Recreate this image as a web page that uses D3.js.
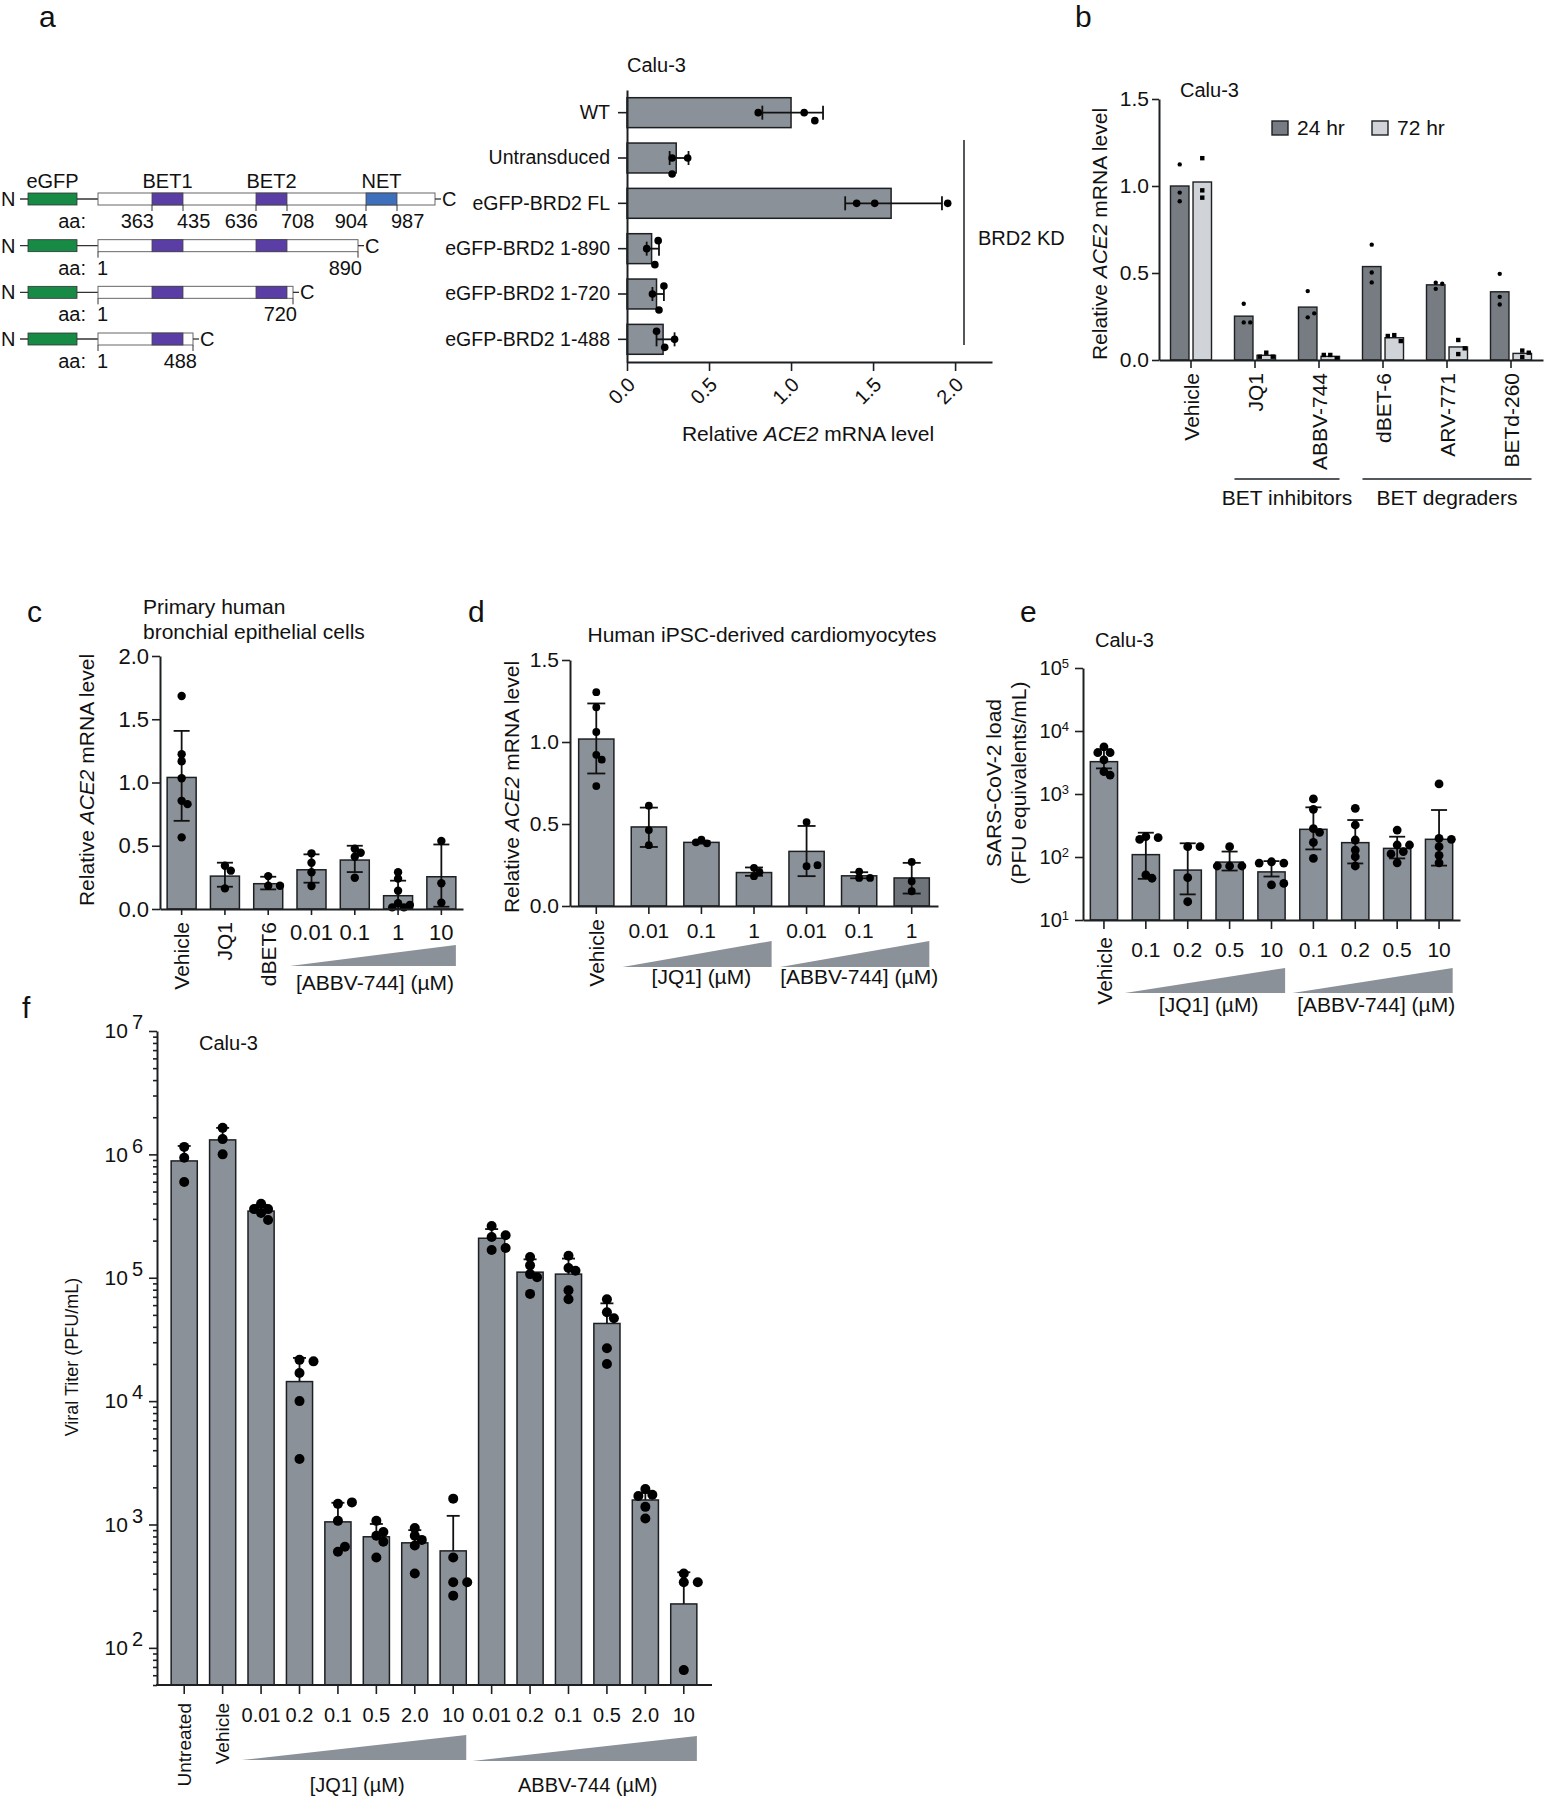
<!DOCTYPE html>
<html><head><meta charset="utf-8">
<script src="https://cdn.jsdelivr.net/npm/d3@7"></script>
<style>
body{margin:0;background:#fff}
svg text{font-family:"Liberation Sans",Arial,Helvetica,sans-serif;fill:#111}
</style></head><body>
<svg id="fig" width="1545" height="1800"></svg>
<script>
// ---------- data ----------
// a: constructs
const constructNames = ["FL", "1-890", "1-720", "1-488"];
const constructEnds = [1060, 890, 720, 488];
const domainNames = ["BET1", "BET2", "NET"];
const domainStarts = [363, 636, 904];
const domainEnds = [435, 708, 987];
// a: bar chart
const aCats = ["WT", "Untransduced", "eGFP-BRD2 FL", "eGFP-BRD2 1-890", "eGFP-BRD2 1-720", "eGFP-BRD2 1-488"];
const aMean = [1.0, 0.30, 1.61, 0.15, 0.18, 0.22];
const aLo = [0.825, 0.26, 1.33, 0.12, 0.155, 0.18];
const aHi = [1.195, 0.375, 1.92, 0.195, 0.225, 0.29];
const aPts = [[0.80, 1.08, 1.145], [0.37, 0.275, 0.275], [1.40, 1.51, 1.955], [0.12, 0.17, 0.19], [0.155, 0.195, 0.225], [0.29, 0.23, 0.18]];
// b
const bCats = ["Vehicle", "JQ1", "ABBV-744", "dBET-6", "ARV-771", "BETd-260"];
const bTimes = ["24 hr", "72 hr"];
const b24 = [1.0, 0.252, 0.304, 0.537, 0.432, 0.392];
const b72 = [1.023, 0.027, 0.021, 0.128, 0.075, 0.038];
const b24Pts = [[1.124, 0.962, 0.912], [0.323, 0.216, 0.216], [0.396, 0.245, 0.268], [0.663, 0.503, 0.446], [0.409, 0.444, 0.438], [0.495, 0.363, 0.319]];
const b72Pts = [[1.16, 0.975, 0.933], [0.042, 0.019, 0.019], [0.029, 0.01, 0.029], [0.143, 0.109, 0.138], [0.115, 0.034, 0.067], [0.054, 0.017, 0.042]];
// c
const cCats = ["Vehicle", "JQ1", "dBET6", "0.01", "0.1", "1", "10"];
const cMean = [1.04, 0.26, 0.20, 0.31, 0.387, 0.105, 0.255];
const cLo = [0.697, 0.176, 0.155, 0.208, 0.292, 0.0, 0.018];
const cHi = [1.408, 0.366, 0.255, 0.432, 0.50, 0.224, 0.51];
const cPts = [[1.684, 1.224, 1.168, 1.034, 0.855, 0.829, 0.566], [0.342, 0.303, 0.163], [0.26, 0.184, 0.184],
  [0.44, 0.366, 0.29, 0.182], [0.476, 0.445, 0.413, 0.247], [0.29, 0.24, 0.145, 0.045, 0.032, 0.013, 0.013], [0.537, 0.203, 0.05]];
// d
const dCats = ["Vehicle", "JQ1 0.01", "JQ1 0.1", "JQ1 1", "ABBV 0.01", "ABBV 0.1", "ABBV 1"];
const dTicks = ["Vehicle", "0.01", "0.1", "1", "0.01", "0.1", "1"];
const dMean = [1.018, 0.482, 0.388, 0.204, 0.333, 0.184, 0.171];
const dLo = [0.808, 0.36, 0.38, 0.184, 0.182, 0.169, 0.076];
const dHi = [1.235, 0.60, 0.396, 0.235, 0.488, 0.206, 0.263];
const dPts = [[1.304, 1.212, 1.061, 0.922, 0.892, 0.731], [0.612, 0.463, 0.371], [0.404, 0.382, 0.388], [0.233, 0.182, 0.208],
  [0.512, 0.243, 0.249], [0.21, 0.171, 0.171], [0.269, 0.151, 0.09]];
// e
const eCats = ["Vehicle", "JQ1 0.1", "JQ1 0.2", "JQ1 0.5", "JQ1 10", "ABBV 0.1", "ABBV 0.2", "ABBV 0.5", "ABBV 10"];
const eTicks = ["Vehicle", "0.1", "0.2", "0.5", "10", "0.1", "0.2", "0.5", "10"];
const eMean = [3260, 109, 62, 83, 58, 275, 169, 137, 191];
const eLo = [2550, 45, 25.5, 61, 49, 132, 79, 95, 73];
const eHi = [5120, 243, 165, 122, 86, 614, 386, 210, 557];
const ePts = [[5600, 4530, 4530, 3470, 2260, 2000], [210, 203, 190, 52, 46], [146, 146, 47, 19.5], [146, 72, 72, 72], [84, 80, 80, 36, 38],
  [834, 571, 282, 246, 170, 95], [592, 322, 186, 129, 101, 72], [268, 155, 155, 122, 112, 81], [1443, 198, 191, 146, 106, 81]];
// f
const fCats = ["Untreated", "Vehicle", "JQ1 0.01", "JQ1 0.2", "JQ1 0.1", "JQ1 0.5", "JQ1 2.0", "JQ1 10",
  "ABBV 0.01", "ABBV 0.2", "ABBV 0.1", "ABBV 0.5", "ABBV 2.0", "ABBV 10"];
const fTicks = ["Untreated", "Vehicle", "0.01", "0.2", "0.1", "0.5", "2.0", "10", "0.01", "0.2", "0.1", "0.5", "2.0", "10"];
const fMean = [885000, 1310000, 347000, 14400, 1050, 795, 710, 611, 209000, 111000, 107000, 42600, 1580, 227];
const fHi = [1170000, 1640000, 390000, 22400, 1500, 1010, 900, 1175, 248000, 141000, 143000, 62000, 1800, 410];
const fPts = [[1150000, 940000, 597000], [1640000, 1330000, 1000000], [398000, 360000, 360000, 335000, 294000],
  [21600, 21000, 16900, 10000, 3390], [1470, 1510, 1070, 602, 660], [1070, 810, 870, 725, 540], [935, 810, 750, 675, 400],
  [1620, 540, 340, 340, 265], [263000, 214000, 221000, 168000, 174000], [147000, 126000, 107000, 101000, 74000],
  [151000, 120000, 114000, 79000, 67000], [67000, 52500, 47000, 26800, 20000], [1940, 1740, 1700, 1390, 1120], [400, 340, 340, 66]];

// ---------- helpers ----------
const svg = d3.select("#fig");
const GRAY = "#8b9198", INK = "#1d2023";

function txt(g, x, y, s, size, anchor) {
  return g.append("text").attr("x", x).attr("y", y).attr("font-size", size || 21)
    .attr("text-anchor", anchor || "start").text(s);
}
function ace2Title(g, x, y, size, rotate) {
  const t = g.append("text").attr("font-size", size).attr("text-anchor", "middle")
    .attr("transform", `translate(${x},${y})` + (rotate ? " rotate(-90)" : ""));
  t.append("tspan").text("Relative ");
  t.append("tspan").attr("font-style", "italic").text("ACE2");
  t.append("tspan").text(" mRNA level");
}
// simple beeswarm: offsets across the bar for points that would overlap
function swarm(vals, scale, minDist, step) {
  const placed = [];
  return vals.map(v => {
    const p = scale(v);
    let off = 0;
    for (const k of [0, 1, -1, 2, -2, 3, -3]) {
      const o = k * step;
      if (placed.every(q => Math.hypot(q.p - p, q.o - o) >= minDist)) { off = o; break; }
    }
    placed.push({p: p, o: off});
    return off;
  });
}
function styleAxis(g, size) {
  g.select(".domain").attr("stroke", INK).attr("stroke-width", 2);
  g.selectAll(".tick line").attr("stroke", INK).attr("stroke-width", 1.6);
  g.selectAll(".tick text").attr("font-size", size).attr("fill", "#111")
    .attr("font-family", '"Liberation Sans",Arial,sans-serif');
}
function wedge(g, x0, x1, yTop, yBot) {
  g.append("polygon").attr("points", [[x0, yBot], [x1, yTop], [x1, yBot]].map(p => p.join(",")).join(" "))
    .attr("fill", GRAY);
}
function vBars(g, o) {
  const bw = o.x.bandwidth(), y0 = o.y.range()[0];
  o.cats.forEach((c, i) => {
    const cx = o.x(c) + bw / 2;
    g.append("rect").attr("x", o.x(c)).attr("y", o.y(o.mean[i])).attr("width", bw)
      .attr("height", y0 - o.y(o.mean[i])).attr("fill", (o.fills && o.fills[i]) || GRAY)
      .attr("stroke", INK).attr("stroke-width", 1.5);
    const yTop = o.y(o.hi[i]), yBot = o.lo ? o.y(o.lo[i]) : o.y(o.mean[i]);
    g.append("line").attr("x1", cx).attr("x2", cx).attr("y1", yTop).attr("y2", yBot)
      .attr("stroke", "#111").attr("stroke-width", 1.8);
    g.append("line").attr("x1", cx - o.cap / 2).attr("x2", cx + o.cap / 2).attr("y1", yTop).attr("y2", yTop)
      .attr("stroke", "#111").attr("stroke-width", 1.8);
    if (o.lo) g.append("line").attr("x1", cx - o.cap / 2).attr("x2", cx + o.cap / 2).attr("y1", yBot).attr("y2", yBot)
      .attr("stroke", "#111").attr("stroke-width", 1.8);
    const offs = swarm(o.pts[i], o.y, 1.5 * o.r, 1.4 * o.r);
    o.pts[i].forEach((v, j) => {
      g.append("circle").attr("cx", cx + offs[j]).attr("cy", o.y(v)).attr("r", o.r).attr("fill", "#000");
    });
  });
}
function xLabels(g, x, cats, ticks, yAxis, nRot, horizY, size, rotSize) {
  cats.forEach((c, i) => {
    const cx = x(c) + x.bandwidth() / 2;
    if (i < nRot) {
      g.append("text").attr("font-size", rotSize).attr("text-anchor", "end").attr("dy", "0.36em")
        .attr("transform", `translate(${cx},${yAxis + 13}) rotate(-90)`).text(ticks[i]);
    } else {
      txt(g, cx, horizY, ticks[i], size, "middle");
    }
  });
}
function wedgeOver(g, x, first, last, yTop, yBot) {
  const step = x.step(), bw = x.bandwidth();
  wedge(g, x(first) - (step - bw) / 2, x(last) + bw, yTop, yBot);
}

// ---------- panel letters ----------
[["a", 39, 27], ["b", 1075, 27], ["c", 27, 622], ["d", 468, 622], ["e", 1020, 622], ["f", 22, 1018]]
  .forEach(d => txt(svg, d[1], d[2], d[0], 30));

// ---------- a: construct diagram ----------
const ga = svg.append("g");
const aa = d3.scaleLinear()
  .domain([-300, -61, 1, 363, 435, 488, 636, 708, 720, 890, 904, 987, 1060])
  .range([28, 77, 98, 152, 183, 193, 256, 287, 293, 358, 366, 397, 435]);
const rowY = d3.scalePoint().domain(constructNames).range([199, 339]);
constructNames.forEach((n, i) => {
  const y = rowY(n), end = constructEnds[i];
  txt(ga, 1, y + 7, "N", 20);
  ga.append("line").attr("x1", aa(-300) - 8).attr("x2", aa(1)).attr("y1", y).attr("y2", y).attr("stroke", "#333").attr("stroke-width", 1.3);
  ga.append("rect").attr("x", aa(-300)).attr("y", y - 6).attr("width", aa(-61) - aa(-300)).attr("height", 12)
    .attr("fill", "#178a45").attr("stroke", "#333").attr("stroke-width", 0.8);
  ga.append("rect").attr("x", aa(1)).attr("y", y - 6).attr("width", aa(end) - aa(1)).attr("height", 12)
    .attr("fill", "#fff").attr("stroke", "#666").attr("stroke-width", 1);
  domainNames.forEach((dn, k) => {
    if (domainEnds[k] > end) return;
    ga.append("rect").attr("x", aa(domainStarts[k])).attr("y", y - 6).attr("width", aa(domainEnds[k]) - aa(domainStarts[k]))
      .attr("height", 12).attr("fill", dn === "NET" ? "#3d6fbd" : "#5a3ea6").attr("stroke", "#444").attr("stroke-width", 0.8);
  });
  ga.append("line").attr("x1", aa(end)).attr("x2", aa(end) + 6).attr("y1", y).attr("y2", y).attr("stroke", "#333").attr("stroke-width", 1.3);
  txt(ga, aa(end) + 7, y + 7, "C", 20);
  txt(ga, 86, y + 29, "aa:", 20, "end");
  const tick = v => ga.append("line").attr("x1", aa(v)).attr("x2", aa(v)).attr("y1", y + 6).attr("y2", y + 12)
    .attr("stroke", "#333").attr("stroke-width", 1);
  if (i === 0) {
    txt(ga, (aa(-300) + aa(-61)) / 2, y - 11, "eGFP", 20, "middle");
    domainNames.forEach((dn, k) => {
      txt(ga, (aa(domainStarts[k]) + aa(domainEnds[k])) / 2, y - 11, dn, 20, "middle");
      tick(domainStarts[k]); tick(domainEnds[k]);
      txt(ga, aa(domainStarts[k]) + 2, y + 29, domainStarts[k], 20, "end");
      txt(ga, aa(domainEnds[k]) - 6, y + 29, domainEnds[k], 20, "start");
    });
  } else {
    tick(1); tick(end);
    txt(ga, aa(1) - 1, y + 29, "1", 20, "start");
    txt(ga, aa(end) + 4, y + 29, end, 20, "end");
  }
});

// ---------- a: bar chart ----------
const gA = svg.append("g");
const xA = d3.scaleLinear().domain([0, 2.225]).range([627, 992]);
const yA = d3.scaleBand().domain(aCats).range([90, 362]).paddingInner(0.34).paddingOuter(0.17);
aCats.forEach((c, i) => {
  const cy = yA(c) + yA.bandwidth() / 2;
  gA.append("rect").attr("x", xA(0)).attr("y", yA(c)).attr("width", xA(aMean[i]) - xA(0)).attr("height", yA.bandwidth())
    .attr("fill", GRAY).attr("stroke", INK).attr("stroke-width", 1.5);
  gA.append("line").attr("x1", xA(aLo[i])).attr("x2", xA(aHi[i])).attr("y1", cy).attr("y2", cy).attr("stroke", "#111").attr("stroke-width", 1.8);
  [aLo[i], aHi[i]].forEach(v => gA.append("line").attr("x1", xA(v)).attr("x2", xA(v)).attr("y1", cy - 7).attr("y2", cy + 7)
    .attr("stroke", "#111").attr("stroke-width", 1.8));
  const offs = swarm(aPts[i], xA, 12, 8);
  aPts[i].forEach((v, j) => gA.append("circle").attr("cx", xA(v)).attr("cy", cy + offs[j]).attr("r", 3.8).attr("fill", "#000"));
});
const aY = gA.append("g").attr("transform", "translate(627,0)")
  .call(d3.axisLeft(yA).tickSize(9).tickPadding(8).tickSizeOuter(0));
styleAxis(aY, 19.5);
const aX = gA.append("g").attr("transform", "translate(0,362)")
  .call(d3.axisBottom(xA).tickValues([0, 0.5, 1, 1.5, 2]).tickFormat(d3.format(".1f")).tickSize(9).tickSizeOuter(0));
styleAxis(aX, 20);
aX.selectAll(".tick text").attr("x", 0).attr("y", 0).attr("dy", "0.35em").style("text-anchor", "end")
  .attr("transform", "translate(4,19) rotate(-45)");
txt(gA, 627, 72, "Calu-3", 20);
gA.append("line").attr("x1", 964).attr("x2", 964).attr("y1", yA(aCats[1]) - 3).attr("y2", 345).attr("stroke", INK).attr("stroke-width", 1.5);
txt(gA, 978, 245, "BRD2 KD", 20);
ace2Title(gA, 808, 441, 21, false);

// ---------- b ----------
const gB = svg.append("g");
const xB = d3.scaleBand().domain(bCats).range([1159, 1543]);
const xB2 = d3.scaleBand().domain(bTimes).range([0, xB.bandwidth()]).paddingInner(0.18).paddingOuter(0.51);
const yB = d3.scaleLinear().domain([0, 1.5]).range([360, 99]);
const bFill = {"24 hr": "#767c82", "72 hr": "#d0d3d7"};
bCats.forEach((c, i) => {
  [[bTimes[0], b24[i], b24Pts[i]], [bTimes[1], b72[i], b72Pts[i]]].forEach(([t, v, pts]) => {
    const x0 = xB(c) + xB2(t), cx = x0 + xB2.bandwidth() / 2;
    gB.append("rect").attr("x", x0).attr("y", yB(v)).attr("width", xB2.bandwidth()).attr("height", yB(0) - yB(v))
      .attr("fill", bFill[t]).attr("stroke", INK).attr("stroke-width", 1.4);
    const offs = swarm(pts, yB, 6, 6.5);
    pts.forEach((p, j) => {
      if (t === "24 hr") gB.append("circle").attr("cx", cx + offs[j]).attr("cy", yB(p)).attr("r", 2.2).attr("fill", "#000");
      else gB.append("rect").attr("x", cx + offs[j] - 2.2).attr("y", yB(p) - 2.2).attr("width", 4.4).attr("height", 4.4).attr("fill", "#000");
    });
  });
});
const bY = gB.append("g").attr("transform", "translate(1159,0)")
  .call(d3.axisLeft(yB).tickValues([0, 0.5, 1, 1.5]).tickFormat(d3.format(".1f")).tickSize(7).tickPadding(3).tickSizeOuter(0));
styleAxis(bY, 21);
const bX = gB.append("g").attr("transform", "translate(0,360)")
  .call(d3.axisBottom(xB).tickSize(8).tickFormat("").tickSizeOuter(0));
styleAxis(bX, 21);
bCats.forEach(c => gB.append("text").attr("font-size", 21).attr("text-anchor", "end").attr("dy", "0.36em")
  .attr("transform", `translate(${xB(c) + xB.bandwidth() / 2},${373}) rotate(-90)`).text(c));
ace2Title(gB, 1107, 234, 21, true);
txt(gB, 1180, 97, "Calu-3", 20);
bTimes.forEach((t, k) => {
  const lx = [1272, 1372][k];
  gB.append("rect").attr("x", lx).attr("y", 121).attr("width", 16).attr("height", 14).attr("fill", bFill[t]).attr("stroke", INK).attr("stroke-width", 1.4);
  txt(gB, lx + 25, 135, t, 21);
});
[["BET inhibitors", "JQ1", "ABBV-744"], ["BET degraders", "dBET-6", "BETd-260"]].forEach(([lab, a0, a1]) => {
  const x0 = xB(a0) + xB2(bTimes[0]), x1 = xB(a1) + xB2(bTimes[1]) + xB2.bandwidth();
  gB.append("line").attr("x1", x0).attr("x2", x1).attr("y1", 479).attr("y2", 479).attr("stroke", INK).attr("stroke-width", 1.4);
  txt(gB, (x0 + x1) / 2, 505, lab, 21, "middle");
});

// ---------- c ----------
const gC = svg.append("g");
const xC = d3.scaleBand().domain(cCats).range([160, 463]).paddingInner(0.33).paddingOuter(0.165);
const yC = d3.scaleLinear().domain([0, 2]).range([909, 656]);
vBars(gC, {cats: cCats, mean: cMean, lo: cLo, hi: cHi, pts: cPts, x: xC, y: yC, r: 4.2, cap: 16});
styleAxis(gC.append("g").attr("transform", "translate(160,0)")
  .call(d3.axisLeft(yC).tickValues([0, 0.5, 1, 1.5, 2]).tickFormat(d3.format(".1f")).tickSize(8).tickPadding(3).tickSizeOuter(0)), 22);
styleAxis(gC.append("g").attr("transform", "translate(0,909)")
  .call(d3.axisBottom(xC).tickFormat("").tickSize(6).tickSizeOuter(0)), 21);
xLabels(gC, xC, cCats, cCats, 909, 3, 940, 22, 21);
wedgeOver(gC, xC, "0.01", "10", 945, 966);
txt(gC, 375, 990, "[ABBV-744] (µM)", 21, "middle");
txt(gC, 143, 614, "Primary human", 21);
txt(gC, 143, 639, "bronchial epithelial cells", 21);
ace2Title(gC, 94, 780, 21, true);

// ---------- d ----------
const gD = svg.append("g");
const xD = d3.scaleBand().domain(dCats).range([570, 938]).paddingInner(0.33).paddingOuter(0.165);
const yD = d3.scaleLinear().domain([0, 1.5]).range([906, 660]);
vBars(gD, {cats: dCats, mean: dMean, lo: dLo, hi: dHi, pts: dPts, x: xD, y: yD, r: 3.9, cap: 18,
  fills: [GRAY, GRAY, GRAY, GRAY, GRAY, GRAY, "#6e7479"]});
styleAxis(gD.append("g").attr("transform", "translate(570,0)")
  .call(d3.axisLeft(yD).tickValues([0, 0.5, 1, 1.5]).tickFormat(d3.format(".1f")).tickSize(8).tickPadding(3).tickSizeOuter(0)), 21);
styleAxis(gD.append("g").attr("transform", "translate(0,906)")
  .call(d3.axisBottom(xD).tickFormat("").tickSize(8).tickSizeOuter(0)), 21);
xLabels(gD, xD, dCats, dTicks, 906, 1, 938, 21, 21);
wedgeOver(gD, xD, dCats[1], dCats[3], 941, 967);
wedgeOver(gD, xD, dCats[4], dCats[6], 941, 967);
txt(gD, (xD(dCats[1]) + xD(dCats[3]) + xD.bandwidth()) / 2, 984, "[JQ1] (µM)", 21, "middle");
txt(gD, (xD(dCats[4]) + xD(dCats[6]) + xD.bandwidth()) / 2, 984, "[ABBV-744] (µM)", 21, "middle");
txt(gD, 762, 642, "Human iPSC-derived cardiomyocytes", 21, "middle");
ace2Title(gD, 519, 787, 21, true);

// ---------- e ----------
const gE = svg.append("g");
const xE = d3.scaleBand().domain(eCats).range([1083, 1460]).paddingInner(0.35).paddingOuter(0.175);
const yE = d3.scaleLog().domain([10, 1e5]).range([920, 668]);
vBars(gE, {cats: eCats, mean: eMean, lo: eLo, hi: eHi, pts: ePts, x: xE, y: yE, r: 4.4, cap: 16});
const eY = gE.append("g").attr("transform", "translate(1083,0)")
  .call(d3.axisLeft(yE).tickValues([10, 100, 1000, 1e4, 1e5]).tickSize(8).tickPadding(6).tickSizeOuter(0));
styleAxis(eY, 20);
eY.selectAll(".tick text").each(function(d) {
  const t = d3.select(this).text("10");
  t.append("tspan").attr("dy", "-0.55em").attr("font-size", 13).text(Math.round(Math.log10(d)));
});
styleAxis(gE.append("g").attr("transform", "translate(0,920)")
  .call(d3.axisBottom(xE).tickFormat("").tickSize(9).tickSizeOuter(0)), 21);
xLabels(gE, xE, eCats, eTicks, 924, 1, 957, 21, 21);
wedgeOver(gE, xE, eCats[1], eCats[4], 968, 993);
wedgeOver(gE, xE, eCats[5], eCats[8], 968, 993);
txt(gE, (xE(eCats[1]) + xE(eCats[4]) + xE.bandwidth()) / 2, 1012, "[JQ1] (µM)", 21, "middle");
txt(gE, (xE(eCats[5]) + xE(eCats[8]) + xE.bandwidth()) / 2, 1012, "[ABBV-744] (µM)", 21, "middle");
txt(gE, 1095, 647, "Calu-3", 20);
gE.append("text").attr("font-size", 21).attr("text-anchor", "middle").attr("transform", "translate(1001,783) rotate(-90)").text("SARS-CoV-2 load");
gE.append("text").attr("font-size", 21).attr("text-anchor", "middle").attr("transform", "translate(1026,783) rotate(-90)").text("(PFU equivalents/mL)");

// ---------- f ----------
const gF = svg.append("g");
const xF = d3.scaleBand().domain(fCats).range([165, 703]).paddingInner(0.32).paddingOuter(0.16);
const yF = d3.scaleLog().domain([50, 1e7]).range([1685, 1031]);
vBars(gF, {cats: fCats, mean: fMean, hi: fHi, pts: fPts, x: xF, y: yF, r: 5, cap: 13});
const fMinor = yF.ticks().filter(v => Math.abs(Math.log10(v) % 1) > 1e-6);
styleAxis(gF.append("g").attr("transform", "translate(157,0)")
  .call(d3.axisLeft(yF).tickValues(fMinor).tickFormat("").tickSize(4).tickSizeOuter(0)), 20);
const fY = gF.append("g").attr("transform", "translate(157,0)")
  .call(d3.axisLeft(yF).tickValues([1e2, 1e3, 1e4, 1e5, 1e6, 1e7]).tickSize(8).tickPadding(6).tickSizeOuter(0));
styleAxis(fY, 21);
fY.select(".domain").remove();
fY.selectAll(".tick text").each(function(d) {
  const t = d3.select(this).text("10");
  t.append("tspan").attr("dx", 4).attr("dy", "-0.45em").attr("font-size", 20).text(Math.round(Math.log10(d)));
});
gF.append("line").attr("x1", 156).attr("x2", 712).attr("y1", 1685).attr("y2", 1685).attr("stroke", INK).attr("stroke-width", 2);
const fX = gF.append("g").attr("transform", "translate(0,1685)")
  .call(d3.axisBottom(xF).tickFormat("").tickSize(9).tickSizeOuter(0));
styleAxis(fX, 20);
fX.select(".domain").remove();
xLabels(gF, xF, fCats, fTicks, 1690, 2, 1722, 20, 19);
wedgeOver(gF, xF, fCats[2], fCats[7], 1735, 1760);
wedgeOver(gF, xF, fCats[8], fCats[13], 1736, 1761);
txt(gF, (xF(fCats[2]) + xF(fCats[7]) + xF.bandwidth()) / 2, 1792, "[JQ1] (µM)", 20, "middle");
txt(gF, (xF(fCats[8]) + xF(fCats[13]) + xF.bandwidth()) / 2, 1792, "ABBV-744 (µM)", 20, "middle");
txt(gF, 199, 1050, "Calu-3", 20);
gF.append("text").attr("font-size", 18).attr("text-anchor", "middle").attr("transform", "translate(78,1357) rotate(-90)").text("Viral Titer (PFU/mL)");
</script>
</body></html>
